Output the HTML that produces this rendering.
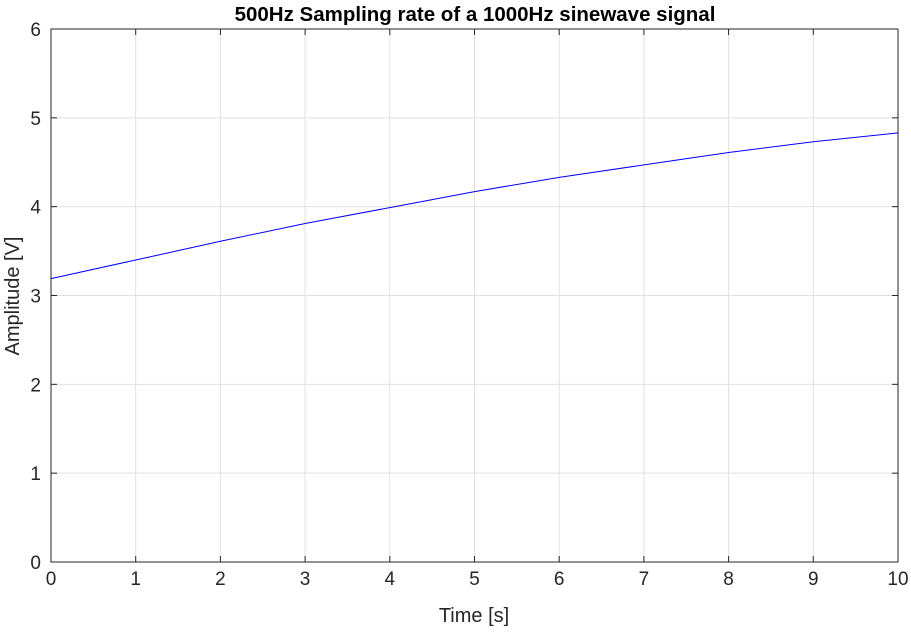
<!DOCTYPE html>
<html><head><meta charset="utf-8"><style>
body{margin:0;background:#fff;width:911px;height:630px;overflow:hidden;font-family:"Liberation Sans",Arial,sans-serif}
</style></head><body>
<svg id="chart" width="911" height="630" xmlns="http://www.w3.org/2000/svg">
<g id="grid"></g>
<rect x="51" y="29" width="847" height="533" fill="none" stroke="#262626" stroke-width="1"/>
<g id="ticks"></g>
<path id="line" fill="none" stroke="#0000ff" stroke-width="1"/>
<text x="475" y="21" text-anchor="middle" font-size="20.5" font-weight="bold" fill="#000">500Hz Sampling rate of a 1000Hz sinewave signal</text>
<text x="474" y="622" text-anchor="middle" font-size="20" fill="#262626">Time [s]</text>
<text transform="translate(19,296) rotate(-90)" text-anchor="middle" font-size="20" fill="#262626">Amplitude [V]</text>
</svg>
<script>
const xTicks=[0,1,2,3,4,5,6,7,8,9,10];
const yTicks=[0,1,2,3,4,5,6];
const times=[0,1,2,3,4,5,6,7,8,9,10];
const amplitudes=[3.19,3.40,3.61,3.81,3.99,4.17,4.33,4.47,4.61,4.73,4.83];
const L=51,R=898,T=29,B=562;
function sx(v){return L+(v-0)/(10-0)*(R-L);}
function sy(v){return B-(v-0)/(6-0)*(B-T);}
const NS="http://www.w3.org/2000/svg";
const grid=document.getElementById('grid'),ticks=document.getElementById('ticks');
function mk(tag,attrs,parent){const e=document.createElementNS(NS,tag);for(const k in attrs)e.setAttribute(k,attrs[k]);parent.appendChild(e);return e;}
xTicks.forEach(t=>{const x=sx(t);
 const g=mk('line',{x1:x,x2:x,y1:T,y2:B,stroke:'#e0e0e0','stroke-width':1},grid);
 
 
 mk('line',{x1:x,x2:x,y1:B,y2:B-6,stroke:'#262626'},ticks);
 mk('line',{x1:x,x2:x,y1:T,y2:T+6,stroke:'#262626'},ticks);
 const lb=mk('text',{x:x,y:B+23,'text-anchor':'middle','font-size':19,fill:'#262626'},ticks);lb.textContent=t;
 
 
});
yTicks.forEach(t=>{const y=sy(t);
 const g=mk('line',{x1:L,x2:R,y1:y,y2:y,stroke:'#e0e0e0','stroke-width':1},grid);
 
 
 mk('line',{x1:L,x2:L+6,y1:y,y2:y,stroke:'#262626'},ticks);
 mk('line',{x1:R,x2:R-6,y1:y,y2:y,stroke:'#262626'},ticks);
 const lb=mk('text',{x:L-10,y:y+7,'text-anchor':'end','font-size':19,fill:'#262626'},ticks);lb.textContent=t;
 
 
});
document.getElementById('line').setAttribute('d',times.map((t,i)=>(i?'L':'M')+sx(t).toFixed(1)+','+sy(amplitudes[i]).toFixed(1)).join(' '));
</script>
</body></html>
